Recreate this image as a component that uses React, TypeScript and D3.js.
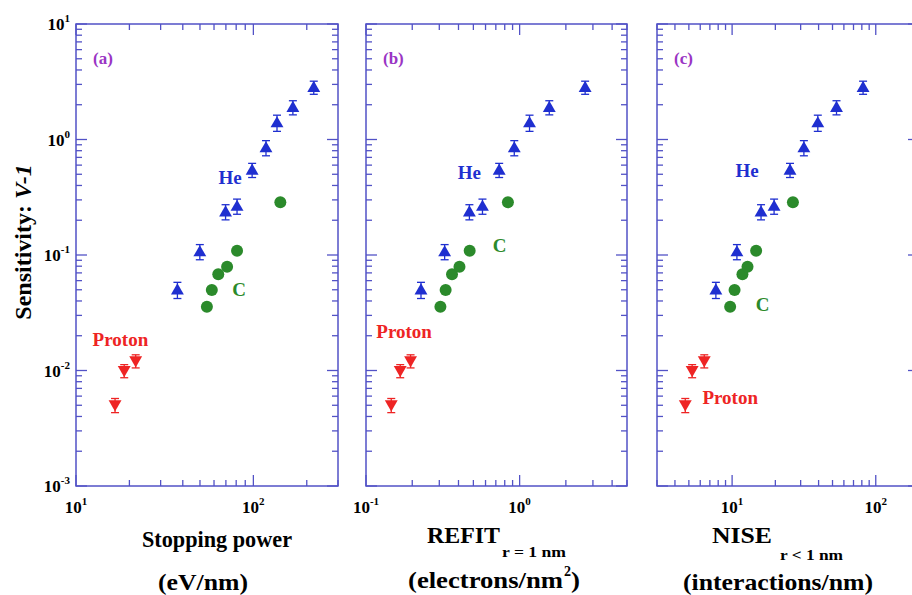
import React, { useEffect, useRef } from 'react';
import * as d3 from 'd3';

// sensitivity values (shared by all three panels)
const heSens = [0.05, 0.107, 0.237, 0.265, 0.545, 0.85, 1.4, 1.9, 2.83];
const cSens = [0.0356, 0.0498, 0.068, 0.079, 0.109, 0.286];
const protonSens = [0.00502, 0.00995, 0.0121];
const heErr = [0.16, 0.15, 0.15, 0.15, 0.14, 0.15, 0.16, 0.14, 0.13];
const protonErr = [0.14, 0.13, 0.13];

// (a) stopping power, eV/nm
const heStopping = [37.3, 49.9, 69.7, 80.9, 98.4, 117.8, 135.9, 167, 219];
const cStopping = [54.7, 58.3, 63.4, 71.1, 80.9, 141.9];
const protonStopping = [16.6, 18.7, 21.7];

// (b) REFIT, electrons/nm^2
const heRefit = [0.228, 0.325, 0.471, 0.573, 0.736, 0.923, 1.16, 1.56, 2.67];
const cRefit = [0.305, 0.33, 0.363, 0.406, 0.473, 0.839];
const protonRefit = [0.146, 0.167, 0.195];

// (c) NISE, interactions/nm
const heNise = [7.71, 10.8, 15.9, 19.6, 25.3, 31.6, 39.5, 53.3, 81.6];
const cNise = [9.69, 10.4, 11.8, 12.8, 14.7, 26.5];
const protonNise = [4.72, 5.27, 6.4];

const panelTags = ['(a)', '(b)', '(c)'];
const xDomains = [[10, 300], [0.1, 5], [3, 200]];
const xTickLabels = [[10, 100], [0.1, 1], [10, 100]];
const yDomain = [0.001, 10];
const yTickLabels = [10, 1, 0.1, 0.01, 0.001];

// annotation anchors in data units [x, y]
const heLabelAt = [[74, 0.46], [0.47, 0.51], [12.7, 0.537]];
const cLabelAt = [[83, 0.05], [0.74, 0.12], [16.3, 0.0369]];
const protonLabelAt = [[17.8, 0.0184], [0.177, 0.0217], [9.7, 0.00574]];

const AXIS = '#5252c6';
const BLUE = '#1f2fd0';
const GREEN = '#2b8a2b';
const RED = '#ee2424';
const PURPLE = '#9a35c4';
const FONT = '"Liberation Serif", "Times New Roman", serif';

const App = () => {
  const svgRef = useRef(null);

  useEffect(() => {
    const svg = d3.select(svgRef.current);
    svg.selectAll('*').remove();

    const top = 24, bottom = 486;
    const panelX = [[76, 338], [366, 627], [657, 919]];
    const y = d3.scaleLog().domain(yDomain).range([bottom, top]);

    const panels = [
      { he: heStopping, c: cStopping, p: protonStopping },
      { he: heRefit, c: cRefit, p: protonRefit },
      { he: heNise, c: cNise, p: protonNise },
    ];

    const isMajor = (v) => Math.abs(Math.log10(v) - Math.round(Math.log10(v))) < 1e-6;
    const exp = (v) => Math.round(Math.log10(v));

    panels.forEach((pd, i) => {
      const x = d3.scaleLog().domain(xDomains[i]).range(panelX[i]);
      const g = svg.append('g');
      const [x0, x1] = panelX[i];

      // frame
      g.append('rect')
        .attr('x', x0).attr('y', top)
        .attr('width', x1 - x0).attr('height', bottom - top)
        .attr('fill', 'none').attr('stroke', AXIS).attr('stroke-width', 1.5);

      // x ticks, top and bottom, pointing inward
      x.ticks().filter(v => v >= xDomains[i][0] && v <= xDomains[i][1]).forEach(v => {
        const len = isMajor(v) ? 11 : 6;
        const px = x(v);
        g.append('line').attr('x1', px).attr('x2', px).attr('y1', bottom).attr('y2', bottom - len)
          .attr('stroke', AXIS).attr('stroke-width', 1.3);
        g.append('line').attr('x1', px).attr('x2', px).attr('y1', top).attr('y2', top + len)
          .attr('stroke', AXIS).attr('stroke-width', 1.3);
      });

      // y ticks, left and right
      y.ticks().forEach(v => {
        const len = isMajor(v) ? 11 : 6;
        const py = y(v);
        g.append('line').attr('x1', x0).attr('x2', x0 + len).attr('y1', py).attr('y2', py)
          .attr('stroke', AXIS).attr('stroke-width', 1.3);
        g.append('line').attr('x1', x1).attr('x2', x1 - len).attr('y1', py).attr('y2', py)
          .attr('stroke', AXIS).attr('stroke-width', 1.3);
      });

      // x tick labels
      xTickLabels[i].forEach(v => {
        const t = g.append('text')
          .attr('x', x(v)).attr('y', bottom + 27)
          .attr('text-anchor', 'middle')
          .attr('font-family', FONT).attr('font-weight', 'bold').attr('font-size', 17);
        t.append('tspan').text('10');
        t.append('tspan').attr('dy', -8).attr('font-size', 11).text(exp(v));
      });

      // panel tag
      g.append('text')
        .attr('x', x0 + 17).attr('y', 64)
        .attr('font-family', FONT).attr('font-weight', 'bold').attr('font-size', 17)
        .attr('fill', PURPLE).text(panelTags[i]);

      // error bars
      const errBar = (xv, yv, e, color) => {
        const px = x(xv);
        const lo = y(yv * (1 - e)), hi = y(yv * (1 + e));
        g.append('line').attr('x1', px).attr('x2', px).attr('y1', lo).attr('y2', hi)
          .attr('stroke', color).attr('stroke-width', 1.3);
        [lo, hi].forEach(py => g.append('line')
          .attr('x1', px - 4).attr('x2', px + 4).attr('y1', py).attr('y2', py)
          .attr('stroke', color).attr('stroke-width', 1.3));
      };

      const tri = d3.symbol(d3.symbolTriangle, 72);

      // He
      pd.he.forEach((xv, k) => {
        errBar(xv, heSens[k], heErr[k], BLUE);
        g.append('path').attr('d', tri())
          .attr('transform', `translate(${x(xv)},${y(heSens[k]) + 1})`)
          .attr('fill', BLUE);
      });

      // C
      pd.c.forEach((xv, k) => {
        g.append('circle').attr('cx', x(xv)).attr('cy', y(cSens[k])).attr('r', 6)
          .attr('fill', GREEN);
      });

      // Proton
      pd.p.forEach((xv, k) => {
        errBar(xv, protonSens[k], protonErr[k], RED);
        g.append('path').attr('d', tri())
          .attr('transform', `translate(${x(xv)},${y(protonSens[k]) - 1}) rotate(180)`)
          .attr('fill', RED);
      });

      // series labels
      const label = (pos, txt, color, size) => g.append('text')
        .attr('x', x(pos[0])).attr('y', y(pos[1]) + 6)
        .attr('text-anchor', 'middle')
        .attr('font-family', FONT).attr('font-weight', 'bold').attr('font-size', size)
        .attr('fill', color).text(txt);
      label(heLabelAt[i], 'He', BLUE, 19);
      label(cLabelAt[i], 'C', GREEN, 19);
      label(protonLabelAt[i], 'Proton', RED, 19);
    });

    // y tick labels
    yTickLabels.forEach(v => {
      const t = svg.append('text')
        .attr('x', 70).attr('y', y(v) + 6)
        .attr('text-anchor', 'end')
        .attr('font-family', FONT).attr('font-weight', 'bold').attr('font-size', 17);
      t.append('tspan').text('10');
      t.append('tspan').attr('dy', -8).attr('font-size', 11).text(exp(v));
    });

    // y title
    const yt = svg.append('text')
      .attr('transform', 'translate(31,242) rotate(-90)')
      .attr('text-anchor', 'middle')
      .attr('font-family', FONT).attr('font-weight', 'bold').attr('font-size', 24);
    yt.append('tspan').text('Sensitivity: ');
    yt.append('tspan').attr('font-style', 'italic').text('V-1');

    // x titles, fitted to the widths seen in the reference
    const fitted = (x0, yb, txt, w, size) => svg.append('text')
      .attr('x', x0).attr('y', yb)
      .attr('textLength', w).attr('lengthAdjust', 'spacingAndGlyphs')
      .attr('font-family', FONT).attr('font-weight', 'bold').attr('font-size', size)
      .text(txt);

    fitted(142, 547, 'Stopping power', 150, 24);
    fitted(158, 590, '(eV/nm)', 90, 24);

    fitted(427, 543, 'REFIT', 73, 24);
    fitted(502, 557, 'r = 1 nm', 64, 14);
    fitted(408, 588, '(electrons/nm', 155, 24);
    fitted(564, 576, '2', 7, 14);
    fitted(571, 588, ')', 9, 24);

    fitted(712, 543, 'NISE', 60, 24);
    fitted(780, 560, 'r < 1 nm', 63, 14);
    fitted(683, 590, '(interactions/nm)', 190, 24);
  }, []);

  return (
    <svg ref={svgRef} width={912} height={595}
      style={{ position: 'absolute', left: 0, top: 0, background: '#fff' }} />
  );
};

export default App;
